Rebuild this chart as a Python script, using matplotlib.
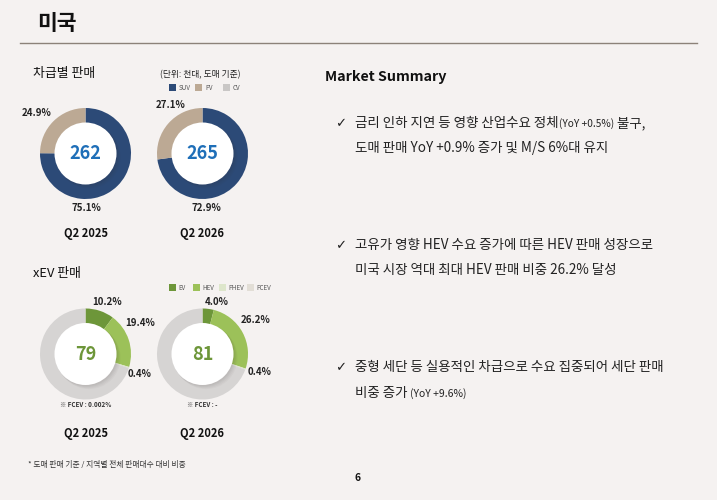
import matplotlib
matplotlib.use("Agg")
import matplotlib.pyplot as plt
from matplotlib.patches import Circle, Rectangle

plt.rcParams['font.family'] = ['Noto Sans CJK KR', 'DejaVu Sans']

W, H = 717, 500
BG = '#f5f2f1'

# ---- data ----
years = ['Q2 2025', 'Q2 2026']
seg_labels = ['SUV', 'PV', 'CV']
seg_share = [[75.1, 24.9, 0.0], [72.9, 27.1, 0.0]]
seg_total = ['262', '265']
xev_labels = ['EV', 'HEV', 'PHEV', 'FCEV']
ev_share = [10.2, 4.0]
hev_share = [19.4, 26.2]
phev_share = [0.4, 0.4]
xev_total = ['79', '81']
fcev_note = ['※ FCEV : 0.002%', '※ FCEV : -']

seg_colors = ['#2c4a77', '#bca994', '#c9c7c6']
xev_colors = ['#6d9639', '#9cc159', '#dde6cb', '#d6d4d3']
xev_leg_colors = ['#6d9639', '#9cc159', '#dde6cb', '#e2ded6']

fig = plt.figure(figsize=(W / 100, H / 100), dpi=100, facecolor=BG)
bg = fig.add_axes([0, 0, 1, 1])
bg.set_xlim(0, W)
bg.set_ylim(H, 0)
bg.axis('off')
bg.set_facecolor(BG)

# title and rule
bg.text(37, 23, '미국', fontsize=15.5, fontweight='bold', va='center', ha='left', color='#111111')
bg.plot([20, 697], [43, 43], color='#8c8279', lw=1)

R_OUT, R_IN = 45.5, 31.0


def donut(cx, cy, vals, colors, center_txt, center_color):
    ax = fig.add_axes([(cx - R_OUT) / W, 1 - (cy + R_OUT) / H, 2 * R_OUT / W, 2 * R_OUT / H])
    ax.pie(vals, colors=colors, startangle=90, counterclock=False, radius=1,
           wedgeprops=dict(width=1 - (R_IN - 3) / R_OUT, edgecolor='none', linewidth=0))
    ax.set_xlim(-1, 1)
    ax.set_ylim(-1, 1)
    ax.axis('off')
    r = R_IN / R_OUT
    for i, a in enumerate([0.04, 0.04, 0.035, 0.03]):
        d = 0.02 + i * 0.02
        ax.add_patch(Circle((d, -d), r + 0.01, color='#3a2e2e', alpha=a, lw=0, clip_on=False))
    ax.add_patch(Circle((0, 0), r, color='white', lw=0, clip_on=False))
    ax.text(0, 0, center_txt, ha='center', va='center', fontsize=13, fontweight='bold',
            color=center_color)
    return ax


# ---- segment donuts ----
seg_cx = [85.5, 202.5]
seg_cy = 153.5
for i in range(2):
    donut(seg_cx[i], seg_cy, seg_share[i], seg_colors, seg_total[i], '#1f6fb8')
    bg.text(seg_cx[i], 233, years[i], ha='center', va='center', fontsize=8, fontweight='bold', color='#111111')

pct_kw = dict(ha='center', va='center', fontsize=7, fontweight='bold', color='#222222')
bg.text(37, 113, f'{seg_share[0][1]}%', **pct_kw)
bg.text(86, 208, f'{seg_share[0][0]}%', **pct_kw)
bg.text(171, 105, f'{seg_share[1][1]}%', **pct_kw)
bg.text(206, 208, f'{seg_share[1][0]}%', **pct_kw)

bg.text(33, 74, '차급별 판매', ha='left', va='center', fontsize=9.3, color='#111111')
bg.text(160, 75, '(단위: 천대, 도매 기준)', ha='left', va='center', fontsize=6.3, color='#222222')
for x, lab, c in zip([169, 195, 223], seg_labels, seg_colors):
    bg.add_patch(Rectangle((x, 84), 6.5, 6.5, color=c, lw=0))
    bg.text(x + 10, 87.5, lab, ha='left', va='center', fontsize=4.5, color='#555555')

# ---- xEV donuts ----
xev_cy = 354
for i in range(2):
    rest = round(100 - ev_share[i] - hev_share[i] - phev_share[i], 1)
    vals = [ev_share[i], hev_share[i], phev_share[i], rest]
    donut(seg_cx[i], xev_cy, vals, xev_colors, xev_total[i], '#6d9639')
    bg.text(seg_cx[i], 433, years[i], ha='center', va='center', fontsize=8, fontweight='bold', color='#111111')
    bg.text(seg_cx[i], 404, fcev_note[i], ha='center', va='center', fontsize=4.5,
            fontweight='bold', color='#333333')

bg.text(107, 302, f'{ev_share[0]}%', **pct_kw)
bg.text(140, 323, f'{hev_share[0]}%', **pct_kw)
bg.text(140, 374, f'{phev_share[0]}%', **pct_kw)
bg.text(217, 302, f'{ev_share[1]}%', **pct_kw)
bg.text(256, 320, f'{hev_share[1]}%', **pct_kw)
bg.text(260, 372, f'{phev_share[1]}%', **pct_kw)

bg.text(33, 273, 'xEV 판매', ha='left', va='center', fontsize=9.3, color='#111111')
for x, lab, c in zip([169, 193, 219, 247], xev_labels, xev_leg_colors):
    bg.add_patch(Rectangle((x, 284), 6.5, 6.5, color=c, lw=0))
    bg.text(x + 9.5, 287.5, lab, ha='left', va='center', fontsize=4.5, color='#555555')

# ---- Market Summary ----
bg.text(325, 77, 'Market Summary', ha='left', va='center', fontsize=10.3, fontweight='bold', color='#111111')

TX = 355
CK = 335
fs = 9.7
col = '#222222'


def line(y, parts):
    prev = None
    for txt, size in parts:
        if prev is None:
            prev = bg.text(TX, y, txt, ha='left', va='baseline', fontsize=size, color=col)
        else:
            prev = bg.annotate(txt, xy=(1, y), xycoords=(prev, 'data'), ha='left', va='baseline',
                               fontsize=size, color=col)


def check(y):
    bg.text(CK, y, '✓', ha='left', va='baseline', fontsize=9.5, color='#222222',
            family=['DejaVu Sans'])


check(127)
line(127, [('금리 인하 지연 등 영향 산업수요 정체', fs), ('(YoY +0.5%)', 7.3), (' 불구,', fs)])
line(152, [('도매 판매 YoY +0.9% 증가 및 M/S 6%대 유지', fs)])
check(249)
line(249, [('고유가 영향 HEV 수요 증가에 따른 HEV 판매 성장으로', fs)])
line(274, [('미국 시장 역대 최대 HEV 판매 비중 26.2% 달성', fs)])
check(371)
line(371, [('중형 세단 등 실용적인 차급으로 수요 집중되어 세단 판매', fs)])
line(397, [('비중 증가 ', fs), ('(YoY +9.6%)', 7.5)])

# footnote and page
bg.text(28, 465, '* 도매 판매 기준 / 지역별 전체 판매대수 대비 비중', ha='left', va='center',
        fontsize=5.6, color='#333333')
bg.text(358, 478, '6', ha='center', va='center', fontsize=7.5, fontweight='bold', color='#111111')

fig.savefig('out.png', dpi=100, facecolor=BG)
